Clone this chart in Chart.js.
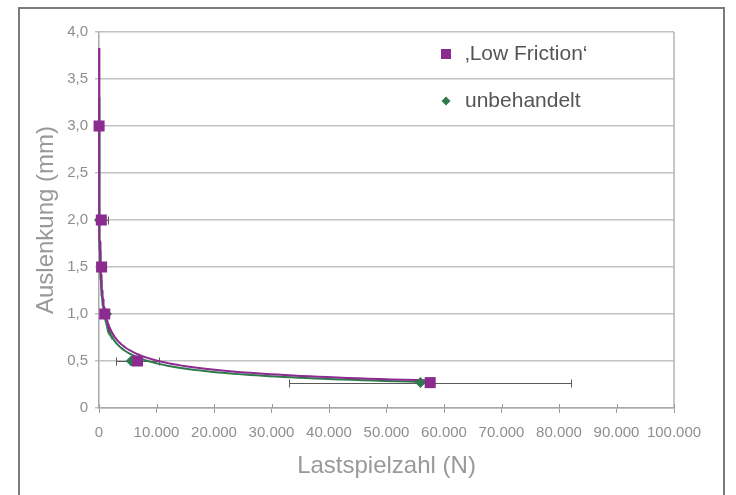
<!DOCTYPE html>
<html>
<head>
<meta charset="utf-8">
<script src="https://cdn.jsdelivr.net/npm/chart.js@4.4.1/dist/chart.umd.min.js"></script>
<style>
  html, body { margin: 0; padding: 0; background: #fff; }
  #wrap { position: relative; width: 736px; height: 495px; }
</style>
</head>
<body>
<div id="wrap"><canvas id="c" width="736" height="495"></canvas></div>
<script>
// Series names
const seriesNames = ['\u201ALow Friction\u2018', 'unbehandelt'];

// Deflection levels (mm) and load cycles reached at each level
const deflection = [3.0, 2.0, 1.5, 1.0, 0.5, 0.27];
const cyclesLowFriction = [15, 400, 450, 1000, 6700, 57600];
const errLowFriction = [0, 1250, 0, 0, 3700, 24500];
const cyclesUntreated = [20, 90, 450, 1300, 5600, 55900];

// Axis tick labels
const xTickLabels = ['0', '10.000', '20.000', '30.000', '40.000', '50.000',
  '60.000', '70.000', '80.000', '90.000', '100.000'];
const yTickLabels = ['0', '0,5', '1,0', '1,5', '2,0', '2,5', '3,0', '3,5', '4,0'];

const PURPLE = '#8c2b8f';
const GREEN = '#2e7a4c';
const FONT = "'Liberation Sans', Arial, Helvetica, sans-serif";

Chart.defaults.font.family = FONT;

// Least-squares power trend y = a * x^b (fit in log-log space)
function powerFit(xs, ys) {
  const lx = xs.map(Math.log), ly = ys.map(Math.log);
  const n = xs.length;
  const mx = lx.reduce((s, v) => s + v, 0) / n;
  const my = ly.reduce((s, v) => s + v, 0) / n;
  let sxy = 0, sxx = 0;
  for (let i = 0; i < n; i++) {
    sxy += (lx[i] - mx) * (ly[i] - my);
    sxx += (lx[i] - mx) * (lx[i] - mx);
  }
  const b = sxy / sxx;
  return { a: Math.exp(my - b * mx), b };
}

// Trend curve over the range of the measured cycles
function trendCurve(xs, ys) {
  const { a, b } = powerFit(xs, ys);
  const x0 = Math.min(...xs), x1 = Math.max(...xs);
  const pts = [];
  const steps = 200;
  for (let i = 0; i <= steps; i++) {
    const x = x0 * Math.pow(x1 / x0, i / steps);
    pts.push({ x, y: a * Math.pow(x, b) });
  }
  return pts;
}

const toPoints = (xs, ys) => xs.map((x, i) => ({ x, y: ys[i] }));

const decor = {
  id: 'decor',
  beforeDatasetsDraw(chart) {
    const { ctx, chartArea: ca, scales: { x, y } } = chart;
    ctx.save();
    ctx.beginPath();
    ctx.rect(ca.left, ca.top - 10, ca.right - ca.left, ca.bottom - ca.top + 20);
    ctx.clip();
    ctx.strokeStyle = '#5a5a5a';
    ctx.lineWidth = 1;
    cyclesLowFriction.forEach((cx, i) => {
      const e = errLowFriction[i];
      if (!e) return;
      const py = Math.round(y.getPixelForValue(deflection[i])) + 0.5;
      const xl = x.getPixelForValue(cx - e), xr = x.getPixelForValue(cx + e);
      ctx.beginPath();
      ctx.moveTo(xl, py); ctx.lineTo(xr, py);
      ctx.moveTo(Math.round(xl) + 0.5, py - 4); ctx.lineTo(Math.round(xl) + 0.5, py + 4);
      ctx.moveTo(Math.round(xr) + 0.5, py - 4); ctx.lineTo(Math.round(xr) + 0.5, py + 4);
      ctx.stroke();
    });
    ctx.restore();
  },
  afterDraw(chart) {
    const { ctx, chartArea: ca, scales: { x } } = chart;
    ctx.save();
    // plot frame on the right
    ctx.strokeStyle = '#b4b4b4';
    ctx.lineWidth = 1.5;
    ctx.beginPath();
    ctx.moveTo(ca.right, ca.top); ctx.lineTo(ca.right, ca.bottom);
    ctx.stroke();
    // tick marks reaching above the x axis
    ctx.lineWidth = 1;
    ctx.strokeStyle = '#9a9a9a';
    x.ticks.forEach((t) => {
      const px = Math.round(x.getPixelForValue(t.value)) + 0.5;
      ctx.beginPath();
      ctx.moveTo(px, ca.bottom - 4); ctx.lineTo(px, ca.bottom);
      ctx.stroke();
    });
    // outer frame
    ctx.strokeStyle = '#7c7c7c';
    ctx.lineWidth = 2;
    ctx.beginPath();
    ctx.moveTo(19, 500); ctx.lineTo(19, 8); ctx.lineTo(724, 8); ctx.lineTo(724, 500);
    ctx.stroke();
    // legend
    ctx.fillStyle = PURPLE;
    ctx.fillRect(441, 49, 10, 10);
    ctx.fillStyle = GREEN;
    ctx.beginPath();
    ctx.moveTo(446, 96.5); ctx.lineTo(450.5, 101); ctx.lineTo(446, 105.5); ctx.lineTo(441.5, 101);
    ctx.closePath(); ctx.fill();
    ctx.fillStyle = '#555555';
    ctx.font = '21px ' + FONT;
    ctx.textBaseline = 'middle';
    ctx.textAlign = 'left';
    ctx.fillText(seriesNames[0], 465, 54);
    ctx.fillText(seriesNames[1], 465, 101);
    ctx.restore();
  }
};

new Chart(document.getElementById('c'), {
  type: 'scatter',
  data: {
    datasets: [
      {
        label: seriesNames[0],
        data: toPoints(cyclesLowFriction, deflection),
        pointStyle: 'rect', pointRadius: 7.8, pointHoverRadius: 7.8,
        backgroundColor: PURPLE, borderWidth: 0, showLine: false, order: 0,
        clip: false
      },
      {
        label: seriesNames[1],
        data: toPoints(cyclesUntreated, deflection),
        pointStyle: 'rectRot', pointRadius: 5.5, pointHoverRadius: 5.5,
        backgroundColor: GREEN, borderWidth: 0, showLine: false, order: 1,
        clip: false
      },
      {
        label: seriesNames[0] + ' Trend',
        data: trendCurve(cyclesLowFriction, deflection),
        showLine: true, pointRadius: 0, borderColor: PURPLE, borderWidth: 2,
        tension: 0, order: 2, clip: false
      },
      {
        label: seriesNames[1] + ' Trend',
        data: trendCurve(cyclesUntreated, deflection),
        showLine: true, pointRadius: 0, borderColor: GREEN, borderWidth: 2,
        tension: 0, order: 3, clip: false
      }
    ]
  },
  options: {
    responsive: false,
    animation: false,
    events: [],
    layout: { padding: { top: 32, right: 62, left: 0, bottom: 0 } },
    plugins: { legend: { display: false }, tooltip: { enabled: false } },
    scales: {
      x: {
        type: 'linear', min: 0, max: 100000,
        afterFit: (s) => { s.height = 87; },
        ticks: {
          stepSize: 10000, maxRotation: 0, autoSkip: false,
          callback: (v, i) => xTickLabels[i],
          color: '#8e8e8e', font: { size: 15 }, padding: 11
        },
        grid: { drawOnChartArea: false, drawTicks: true, tickLength: 5, color: '#9a9a9a' },
        border: { color: '#aaaaaa', width: 1.5 },
        title: {
          display: true, text: 'Lastspielzahl (N)', color: '#999999',
          font: { size: 24 }, padding: { top: 0, bottom: 14 }
        }
      },
      y: {
        type: 'linear', min: 0, max: 4,
        afterFit: (s) => { s.width = 99; },
        ticks: {
          stepSize: 0.5, autoSkip: false,
          callback: (v, i) => yTickLabels[i],
          color: '#8e8e8e', font: { size: 15 }, padding: 7
        },
        grid: { color: '#c2c2c2', lineWidth: 1.5, tickLength: 4 },
        border: { color: '#aaaaaa', width: 1.5 },
        title: {
          display: true, text: 'Auslenkung (mm)', color: '#999999',
          font: { size: 24 }, padding: { top: 32, bottom: 0 }
        }
      }
    }
  },
  plugins: [decor]
});
</script>
</body>
</html>
